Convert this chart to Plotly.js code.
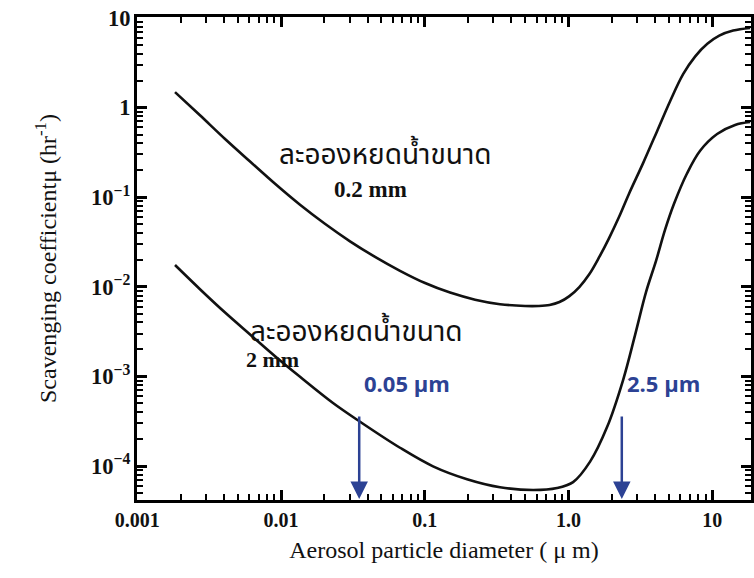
<!DOCTYPE html>
<html>
<head>
<meta charset="utf-8">
<script src="https://cdn.plot.ly/plotly-3.0.1.min.js"></script>
<style>html,body{margin:0;padding:0;background:#fff;}#chart{width:754px;height:578px;}</style>
</head>
<body>
<div id="chart"></div>
<script>
// Aerosol particle diameter (µm) and scavenging coefficient µ (hr^-1)
const diam02 = [0.00183, 0.00273, 0.00408, 0.00609, 0.00909, 0.01356, 0.0202, 0.0302, 0.0451, 0.0673, 0.1005, 0.150, 0.224, 0.334, 0.499, 0.618, 0.739, 0.866, 1.015, 1.19, 1.395, 1.635, 1.917, 2.247, 2.634, 3.306, 4.136, 5.095, 6.277, 7.623, 9.25, 11.2, 14.0, 18.36];
const mu02   = [1.49, 0.82, 0.446, 0.25, 0.141, 0.0823, 0.0505, 0.0322, 0.0216, 0.0151, 0.01102, 0.00862, 0.00719, 0.00640, 0.00611, 0.00611, 0.00627, 0.00676, 0.00787, 0.00993, 0.01379, 0.02139, 0.0350, 0.0601, 0.1088, 0.240, 0.546, 1.178, 2.358, 3.73, 5.15, 6.35, 7.23, 7.73];

const diam2 = [0.00183, 0.00273, 0.00408, 0.00609, 0.00909, 0.01356, 0.0230, 0.0355, 0.0673, 0.1142, 0.197, 0.334, 0.567, 0.833, 1.077, 1.414, 1.856, 2.399, 2.908, 3.468, 4.071, 4.702, 5.433, 6.69, 8.24, 10.82, 14.43, 18.36];
const mu2   = [0.01750, 0.00940, 0.00516, 0.00294, 0.00168, 0.00099, 0.000505, 0.000312, 0.000160, 0.0000993, 0.0000713, 0.0000580, 0.0000540, 0.0000568, 0.0000662, 0.000112, 0.000272, 0.000912, 0.00291, 0.00878, 0.0196, 0.0434, 0.0849, 0.185, 0.330, 0.507, 0.640, 0.690];

const xTickVals = [0.001, 0.01, 0.1, 1, 10];
const xTickText = ['0.001', '0.01', '0.1', '1.0', '10'];

const curveLabels = ['ละอองหยดน้ำขนาด', 'ละอองหยดน้ำขนาด'];
const sizeLabels = ['0.2 mm', '2 mm'];
const arrowDiam = [0.035, 2.35];
const arrowTexts = ['0.05 μm', '2.5 μm'];

const serif = '"Liberation Serif", "Times New Roman", serif';
const thai = '"Noto Sans Thai", "Noto Sans", sans-serif';
const blue = '#2c4294';
const xRange = [-3.002, 1.27];
const yRange = [-4.379, 1.011];

const traces = [
  {x: diam02, y: mu02, mode: 'lines', line: {color: '#111', width: 2.6, shape: 'spline', smoothing: 1}, hoverinfo: 'skip'},
  {x: diam2, y: mu2, mode: 'lines', line: {color: '#111', width: 2.6, shape: 'spline', smoothing: 1}, hoverinfo: 'skip'}
];

const minorTicks = {ticks: 'inside', ticklen: 6, tickwidth: 2, tickcolor: '#000', dtick: 'D1', showgrid: false};

const layout = {
  width: 754, height: 578,
  margin: {l: 137, r: 3, t: 17, b: 78},
  paper_bgcolor: '#fff', plot_bgcolor: '#fff',
  showlegend: false,
  xaxis: {
    type: 'log', range: xRange, showgrid: false, zeroline: false,
    showline: true, linecolor: '#000', linewidth: 3, mirror: 'ticks',
    ticks: 'inside', ticklen: 10, tickwidth: 2.5, tickcolor: '#000',
    tickmode: 'array', tickvals: xTickVals, ticktext: xTickText,
    minor: minorTicks,
    tickfont: {family: serif, size: 20, color: '#111', weight: 'bold'},
    title: {text: 'Aerosol particle diameter ( μ m)', font: {family: serif, size: 24, color: '#111'}, standoff: 12}
  },
  yaxis: {
    type: 'log', range: yRange, showgrid: false, zeroline: false,
    showline: true, linecolor: '#000', linewidth: 3, mirror: 'ticks',
    ticks: 'inside', ticklen: 10, tickwidth: 2.5, tickcolor: '#000',
    tickmode: 'linear', tick0: 0, dtick: 1, exponentformat: 'power',
    minor: minorTicks,
    tickfont: {family: serif, size: 18, color: '#111', weight: 'bold'},
    title: {text: 'Scavenging coefficientμ (hr<sup>-1</sup>)', font: {family: serif, size: 24, color: '#111'}, standoff: 28}
  },
  annotations: [
    {xref: 'paper', yref: 'paper', x: 0.404, y: 0.714, xanchor: 'center', yanchor: 'middle', text: curveLabels[0], showarrow: false,
     font: {family: thai, size: 28, color: '#111'}},
    {xref: 'paper', yref: 'paper', x: 0.381, y: 0.642, xanchor: 'center', yanchor: 'middle', text: sizeLabels[0], showarrow: false,
     font: {family: serif, size: 23, color: '#111', weight: 'bold'}},
    {xref: 'paper', yref: 'paper', x: 0.358, y: 0.346, xanchor: 'center', yanchor: 'middle', text: curveLabels[1], showarrow: false,
     font: {family: thai, size: 28, color: '#111'}},
    {xref: 'paper', yref: 'paper', x: 0.22, y: 0.29, xanchor: 'center', yanchor: 'middle', text: sizeLabels[1], showarrow: false,
     font: {family: serif, size: 22, color: '#111', weight: 'bold'}},
    {xref: 'x', yref: 'paper', x: Math.log10(arrowDiam[0]), y: 0, ax: 0, ay: -85, text: '', showarrow: true,
     arrowhead: 2, arrowsize: 1.4, arrowwidth: 2.5, arrowcolor: blue, standoff: 1},
    {xref: 'x', yref: 'paper', x: Math.log10(arrowDiam[1]), y: 0, ax: 0, ay: -85, text: '', showarrow: true,
     arrowhead: 2, arrowsize: 1.4, arrowwidth: 2.5, arrowcolor: blue, standoff: 1},
    {xref: 'x', yref: 'paper', x: Math.log10(arrowDiam[0]), y: 0.242, xanchor: 'left', yanchor: 'middle', xshift: 3, text: arrowTexts[0], showarrow: false,
     font: {family: '"Open Sans", sans-serif', size: 22, color: blue, weight: 'bold'}},
    {xref: 'x', yref: 'paper', x: Math.log10(arrowDiam[1]), y: 0.242, xanchor: 'left', yanchor: 'middle', xshift: 3, text: arrowTexts[1], showarrow: false,
     font: {family: '"Open Sans", sans-serif', size: 22, color: blue, weight: 'bold'}}
  ]
};

Plotly.newPlot('chart', traces, layout, {displayModeBar: false});
</script>
</body>
</html>
